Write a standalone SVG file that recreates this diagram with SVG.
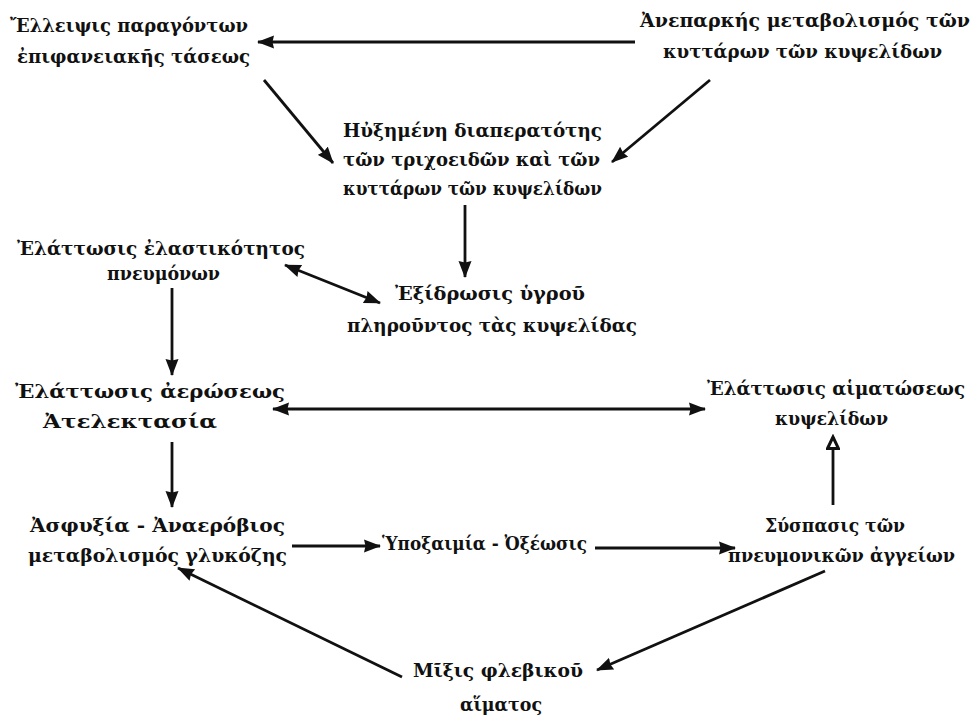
<svg xmlns="http://www.w3.org/2000/svg" width="976" height="715" viewBox="0 0 976 715">
<style>
  text { font-family: "DejaVu Serif", "Liberation Serif", serif; font-size: 19px; font-weight: bold; fill: #111; }
  .c { stroke: #111; stroke-width: 2.8; fill: none; }
</style>
<defs>
  <marker id="ah" markerUnits="userSpaceOnUse" markerWidth="18" markerHeight="14" refX="16" refY="7" orient="auto-start-reverse">
    <path d="M0,0.5 L17,7 L0,13.5 L1.5,7 Z" fill="#111"/>
  </marker>
  <marker id="ho" markerUnits="userSpaceOnUse" markerWidth="16" markerHeight="14" refX="13" refY="7" orient="auto">
    <path d="M1.5,1.5 L13,7 L1.5,12.5 Z" fill="#fff" stroke="#111" stroke-width="3"/>
  </marker>
</defs>
<rect width="976" height="715" fill="#fff"/>
<g id="connectors">
  <line class="c" x1="635" y1="42" x2="258" y2="42" marker-end="url(#ah)"/>
  <line class="c" x1="264" y1="80" x2="333" y2="163" marker-end="url(#ah)"/>
  <line class="c" x1="710" y1="80" x2="612" y2="162" marker-end="url(#ah)"/>
  <line class="c" x1="465" y1="205" x2="465" y2="277" marker-end="url(#ah)"/>
  <line class="c" x1="285" y1="265" x2="380" y2="303" marker-start="url(#ah)" marker-end="url(#ah)"/>
  <line class="c" x1="172" y1="288" x2="172" y2="375" marker-end="url(#ah)"/>
  <line class="c" x1="273" y1="409" x2="705" y2="409" marker-start="url(#ah)" marker-end="url(#ah)"/>
  <line class="c" x1="172" y1="442" x2="172" y2="507" marker-end="url(#ah)"/>
  <line class="c" x1="292" y1="546" x2="380" y2="546" marker-end="url(#ah)"/>
  <line class="c" x1="595" y1="548" x2="735" y2="548" marker-end="url(#ah)"/>
  <line class="c" x1="833" y1="505" x2="833" y2="437" marker-end="url(#ho)"/>
  <line class="c" x1="402" y1="677" x2="178" y2="568" marker-end="url(#ah)"/>
  <line class="c" x1="825" y1="571" x2="597" y2="670" marker-end="url(#ah)"/>
</g>
<g id="n1"><text x="10" y="32" textLength="238" lengthAdjust="spacingAndGlyphs">Ἔλλειψις παραγόντων</text><text x="17" y="63" textLength="233" lengthAdjust="spacingAndGlyphs">ἐπιφανειακῆς τάσεως</text></g>
<g id="n2"><text x="640" y="27" textLength="330" lengthAdjust="spacingAndGlyphs">Ἀνεπαρκής μεταβολισμός τῶν</text><text x="663" y="58" textLength="279" lengthAdjust="spacingAndGlyphs">κυττάρων τῶν κυψελίδων</text></g>
<g id="n3"><text x="343" y="137" textLength="259" lengthAdjust="spacingAndGlyphs">Ηὐξημένη διαπερατότης</text><text x="343" y="166" textLength="257" lengthAdjust="spacingAndGlyphs">τῶν τριχοειδῶν καὶ τῶν</text><text x="343" y="195" textLength="259" lengthAdjust="spacingAndGlyphs">κυττάρων τῶν κυψελίδων</text></g>
<g id="n4"><text x="17" y="255" textLength="288" lengthAdjust="spacingAndGlyphs">Ἐλάττωσις ἐλαστικότητος</text><text x="107" y="280" textLength="113" lengthAdjust="spacingAndGlyphs">πνευμόνων</text></g>
<g id="n5"><text x="395" y="300" textLength="190" lengthAdjust="spacingAndGlyphs">Ἐξίδρωσις ὑγροῦ</text><text x="347" y="332" textLength="290" lengthAdjust="spacingAndGlyphs">πληροῦντος τὰς κυψελίδας</text></g>
<g id="n6"><text x="15" y="398" textLength="270" lengthAdjust="spacingAndGlyphs">Ἐλάττωσις ἀερώσεως</text><text x="43" y="428" textLength="174" lengthAdjust="spacingAndGlyphs">Ἀτελεκτασία</text></g>
<g id="n7"><text x="707" y="395" textLength="258" lengthAdjust="spacingAndGlyphs">Ἐλάττωσις αἱματώσεως</text><text x="775" y="425" textLength="113" lengthAdjust="spacingAndGlyphs">κυψελίδων</text></g>
<g id="n8"><text x="30" y="532" textLength="255" lengthAdjust="spacingAndGlyphs">Ἀσφυξία - Ἀναερόβιος</text><text x="28" y="562" textLength="259" lengthAdjust="spacingAndGlyphs">μεταβολισμός γλυκόζης</text></g>
<g id="n9"><text x="382" y="550" textLength="205" lengthAdjust="spacingAndGlyphs">Ὑποξαιμία - Ὀξέωσις</text></g>
<g id="n10"><text x="765" y="532" textLength="140" lengthAdjust="spacingAndGlyphs">Σύσπασις τῶν</text><text x="728" y="562" textLength="227" lengthAdjust="spacingAndGlyphs">πνευμονικῶν ἀγγείων</text></g>
<g id="n11"><text x="413" y="677" textLength="170" lengthAdjust="spacingAndGlyphs">Μῖξις φλεβικοῦ</text><text x="460" y="711" textLength="82" lengthAdjust="spacingAndGlyphs">αἵματος</text></g>
</svg>
